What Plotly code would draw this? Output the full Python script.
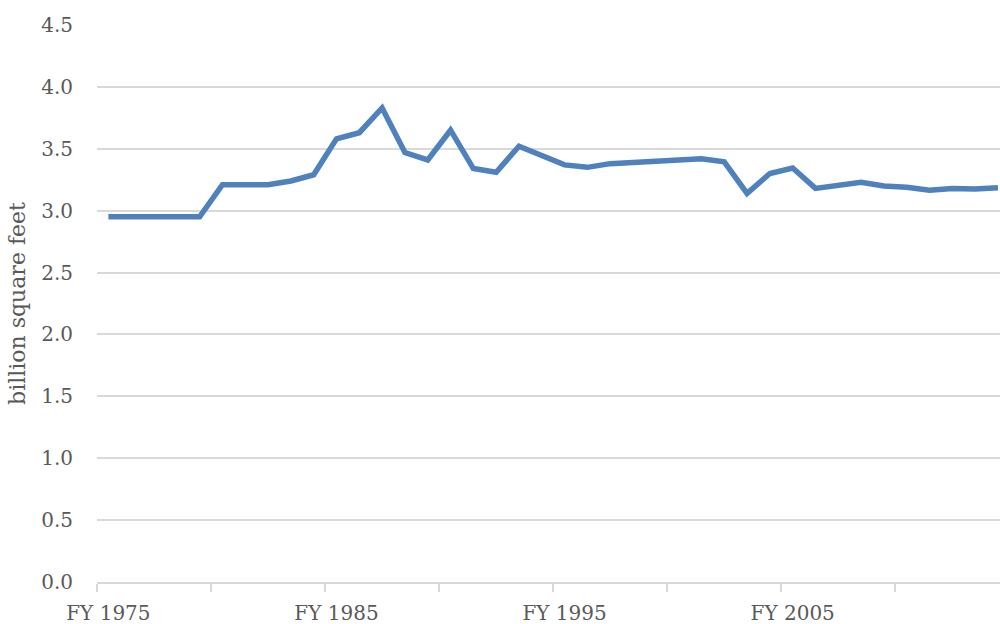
import plotly.graph_objects as go

years = list(range(1975, 2015))
values = [2.95, 2.95, 2.95, 2.95, 2.95,
          3.21, 3.21, 3.21, 3.24, 3.29,
          3.58, 3.63, 3.83, 3.47, 3.41,
          3.65, 3.34, 3.31, 3.52, 3.45,
          3.37, 3.35, 3.38, 3.39, 3.40,
          3.42, 3.42, 3.395, 3.14, 3.30,
          3.345, 3.18, 3.205, 3.23, 3.20,
          3.19, 3.165, 3.18, 3.175, 3.185]
label_years = [1975, 1985, 1995, 2005]
label_text = ["FY 1975", "FY 1985", "FY 1995", "FY 2005"]
y_ticks = [0, 0.5, 1.0, 1.5, 2.0, 2.5, 3.0, 3.5, 4.0, 4.5]

FONT = "DejaVu Serif"
TXT = "#595959"
GRID = "#d9d9d9"
FS = 20

fig = go.Figure()
fig.add_trace(go.Scatter(x=years, y=values, mode="lines",
                         line=dict(color="#4f81bd", width=5.5),
                         hoverinfo="x+y", showlegend=False))

fig.update_layout(
    width=1000, height=624,
    margin=dict(l=97, r=0, t=25, b=42),
    paper_bgcolor="white", plot_bgcolor="white",
    font=dict(family=FONT, size=FS, color=TXT),
)
fig.update_xaxes(
    automargin=False,
    range=[1974.5, 2014.09],
    tickvals=label_years, ticktext=label_text,
    ticks="", ticklabelstandoff=12,
    showgrid=False, zeroline=False,
    showline=True, linecolor=GRID, linewidth=1.5,
    minor=dict(ticks="outside", tick0=1974.5, dtick=5, ticklen=8,
               tickcolor=GRID, tickwidth=1.5, showgrid=False),
    tickfont=dict(family=FONT, size=FS, color=TXT),
)
fig.update_yaxes(
    automargin=False,
    range=[0, 4.5],
    tickvals=y_ticks, tickformat=".1f",
    ticks="", ticklabelstandoff=23,
    showgrid=True, gridcolor=GRID, gridwidth=1.5,
    zeroline=False, showline=False,
    title=dict(text="billion square feet", standoff=9,
               font=dict(family=FONT, size=22, color=TXT)),
    tickfont=dict(family=FONT, size=FS, color=TXT),
)

fig.write_html(
    "out.html",
    config={"displayModeBar": False},
    post_script="document.body.style.margin='0';document.body.style.overflow='hidden';",
)
